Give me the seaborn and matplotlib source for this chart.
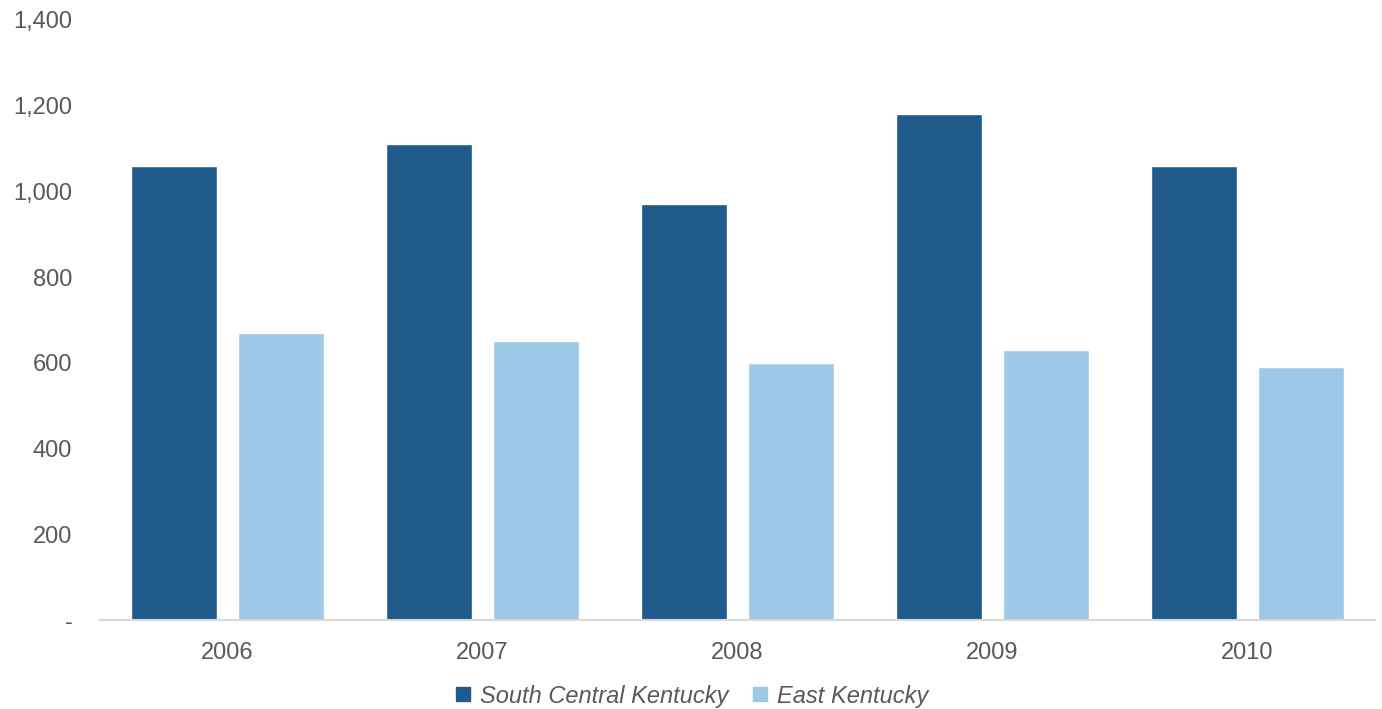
import pandas as pd
import seaborn as sns
import matplotlib.pyplot as plt
from matplotlib.ticker import FuncFormatter
from matplotlib.lines import Line2D

# 資料
years = ["2006", "2007", "2008", "2009", "2010"]
south_central = [1060, 1110, 970, 1180, 1060]
east = [670, 650, 600, 630, 590]
series_names = ["South Central Kentucky", "East Kentucky"]
colors = ["#1F5A8A", "#9DC8E8"]

df = pd.DataFrame({
    "Year": years * 2,
    "Value": south_central + east,
    "Region": [series_names[0]] * len(years) + [series_names[1]] * len(years),
})

sns.set_style("white")
plt.rcParams['font.family'] = ['Liberation Sans', 'DejaVu Sans']

fig = plt.figure(figsize=(13.82, 7.09), dpi=100)
ax = fig.add_axes([0.0724, 0.1255, 0.9226, 0.8463])

sns.barplot(data=df, x="Year", y="Value", hue="Region", palette=colors,
            width=0.84, gap=0.2, ax=ax, legend=False, saturation=1)

ax.set_ylim(0, 1400)
ax.set_xlim(-0.5, 4.5)
ax.set_yticks(range(0, 1401, 200))
ax.yaxis.set_major_formatter(FuncFormatter(lambda v, p: "-" if v == 0 else f"{int(v):,}"))
ax.set_xlabel("")
ax.set_ylabel("")
ax.tick_params(axis="both", length=0, labelsize=17, colors="#595959")
ax.tick_params(axis="y", pad=20)
ax.tick_params(axis="x", pad=16)

for s in ["top", "right", "left"]:
    ax.spines[s].set_visible(False)
ax.spines["bottom"].set_color("#D9D9D9")
ax.spines["bottom"].set_linewidth(1.5)

# 圖例
handles = [Line2D([], [], marker="s", linestyle="", markersize=10, color=c) for c in colors]
fig.legend(handles, series_names, loc="center", bbox_to_anchor=(0.5, 0.018), ncol=2,
           frameon=False, handlelength=0.8, handletextpad=0.3, columnspacing=0.95,
           prop={"size": 17, "style": "italic"}, labelcolor="#595959")

plt.savefig("out.png", dpi=100)
